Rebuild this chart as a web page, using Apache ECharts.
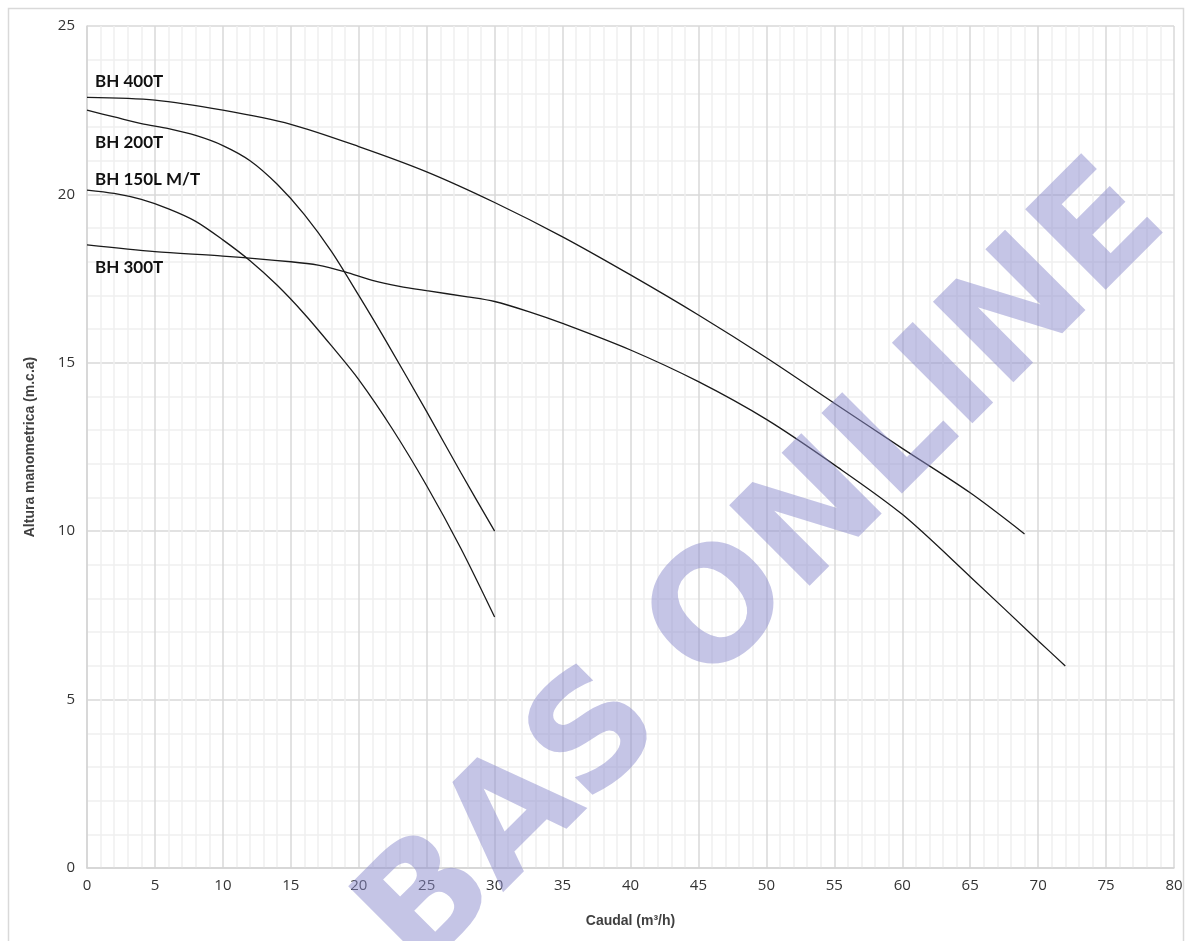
<!DOCTYPE html>
<html>
<head>
<meta charset="utf-8">
<script src="https://cdn.jsdelivr.net/npm/echarts@6/dist/echarts.min.js"></script>
<style>
html,body{margin:0;padding:0;background:#fff;}
#chart{width:1186px;height:941px;}
</style>
</head>
<body>
<div id="chart"></div>
<script>
// Series names
const seriesNames = ['BH 400T', 'BH 200T', 'BH 150L M/T', 'BH 300T'];

// Data: [caudal m3/h, altura m.c.a]
const bh400T = [[0,22.88],[5,22.8],[10,22.5],[15,22.08],[20,21.42],[25,20.67],[30,19.76],[35,18.74],[40,17.61],[45,16.42],[50,15.15],[55,13.8],[60,12.46],[65,11.14],[69,9.92]];
const bh200T = [[0,22.5],[2,22.3],[4,22.1],[6,21.95],[8,21.75],[10,21.45],[12,21.0],[14,20.3],[16,19.4],[18,18.3],[20,17.0],[22,15.65],[25,13.55],[27.5,11.75],[30,10.0]];
const bh150LMT = [[0,20.13],[2,20.03],[4,19.85],[6,19.57],[8,19.2],[10,18.65],[12,18.03],[14,17.3],[16,16.45],[18,15.5],[20,14.5],[22.5,13.02],[25,11.35],[27.5,9.5],[30,7.45]];
const bh300T = [[0,18.5],[5,18.3],[10,18.17],[15,18.0],[17,17.9],[19,17.7],[21,17.45],[23,17.27],[25,17.14],[28,16.96],[30,16.82],[32.5,16.52],[35,16.17],[40,15.38],[45,14.44],[50,13.32],[55,11.97],[60,10.5],[65,8.65],[70,6.75],[72,6.0]];

const xAxisTitle = 'Caudal (m³/h)';
const yAxisTitle = 'Altura manometrica (m.c.a)';
const watermark = 'BAS ONLINE';

const chart = echarts.init(document.getElementById('chart'), null, {renderer: 'canvas'});

function lineSeries(name, data) {
  return {
    name: name,
    type: 'line',
    data: data,
    smooth: 0.3,
    showSymbol: false,
    symbol: 'none',
    lineStyle: {color: '#1a1a1a', width: 1.3},
    z: 3
  };
}

const labelStyle = {fontFamily: 'Lato, "Noto Sans", sans-serif', fontWeight: 'bold', fontSize: 17, fill: '#111'};

chart.setOption({
  animation: false,
  backgroundColor: '#fff',
  grid: {left: 87, top: 26, width: 1087, height: 842, containLabel: false},
  xAxis: {
    type: 'value', min: 0, max: 80, interval: 5,
    name: xAxisTitle, nameLocation: 'middle', nameGap: 46,
    nameTextStyle: {fontFamily: '"Liberation Sans", Arial, sans-serif', fontWeight: 'bold', fontSize: 14, color: '#404040'},
    axisLine: {show: true, lineStyle: {color: '#d4d4d4', width: 1.5}},
    axisTick: {show: false},
    axisLabel: {margin: 10, fontFamily: '"Open Sans", sans-serif', fontSize: 15, color: '#333'},
    splitLine: {show: true, lineStyle: {color: '#d9d9d9', width: 1.5}},
    minorTick: {show: false, splitNumber: 5},
    minorSplitLine: {show: true, lineStyle: {color: '#efefef', width: 1.5}}
  },
  yAxis: {
    type: 'value', min: 0, max: 25, interval: 5,
    name: yAxisTitle, nameLocation: 'middle', nameGap: 50, nameRotate: 90,
    nameTextStyle: {fontFamily: '"Liberation Sans", Arial, sans-serif', fontWeight: 'bold', fontSize: 14, color: '#404040'},
    axisLine: {show: true, lineStyle: {color: '#d4d4d4', width: 1.5}},
    axisTick: {show: false},
    axisLabel: {margin: 12, fontFamily: '"Open Sans", sans-serif', fontSize: 15, color: '#333'},
    splitLine: {show: true, lineStyle: {color: '#d9d9d9', width: 1.5}},
    minorTick: {show: false, splitNumber: 5},
    minorSplitLine: {show: true, lineStyle: {color: '#efefef', width: 1.5}}
  },
  series: [
    lineSeries(seriesNames[0], bh400T),
    lineSeries(seriesNames[1], bh200T),
    lineSeries(seriesNames[2], bh150LMT),
    lineSeries(seriesNames[3], bh300T)
  ],
  graphic: [
    {type: 'rect', shape: {x: 8.5, y: 8.5, width: 1175, height: 960}, style: {fill: 'none', stroke: '#d9d9d9', lineWidth: 1.5}, silent: true, z: 0},
    {type: 'text', left: 95, top: 73, style: Object.assign({text: seriesNames[0]}, labelStyle), z: 10},
    {type: 'text', left: 95, top: 134, style: Object.assign({text: seriesNames[1]}, labelStyle), z: 10},
    {type: 'text', left: 95, top: 171, style: Object.assign({text: seriesNames[2]}, labelStyle), z: 10},
    {type: 'text', left: 95, top: 259, style: Object.assign({text: seriesNames[3]}, labelStyle), z: 10},
    {type: 'text', x: 766, y: 572, rotation: 45 * Math.PI / 180,
     style: {text: watermark, fontFamily: '"DejaVu Sans", sans-serif', fontWeight: 'bold', fontSize: 156,
             fill: 'rgba(140,140,205,0.5)', align: 'center', verticalAlign: 'middle'}, silent: true, z: 20}
  ]
});
</script>
</body>
</html>
